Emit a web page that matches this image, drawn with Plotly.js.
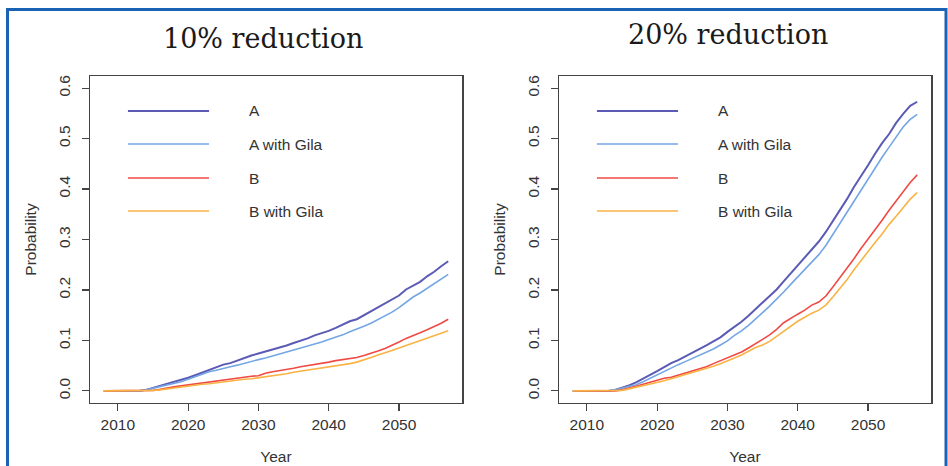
<!DOCTYPE html>
<html>
<head>
<meta charset="utf-8">
<script src="https://cdn.plot.ly/plotly-3.0.1.min.js"></script>
<style>html,body{margin:0;padding:0;background:#fff;}#chart{width:948px;height:466px;}</style>
</head>
<body>
<div id="chart"></div>
<script>
// ---------- data ----------
const years = [2008,2009,2010,2011,2012,2013,2014,2015,2016,2017,2018,2019,2020,2021,2022,2023,2024,2025,2026,2027,2028,2029,2030,2031,2032,2033,2034,2035,2036,2037,2038,2039,2040,2041,2042,2043,2044,2045,2046,2047,2048,2049,2050,2051,2052,2053,2054,2055,2056,2057];

const panelTitles = ["10% reduction", "20% reduction"];
const seriesNames = ["A", "A with Gila", "B", "B with Gila"];
const xTickVals = [2010, 2020, 2030, 2040, 2050];
const yTickVals = [0.0, 0.1, 0.2, 0.3, 0.4, 0.5, 0.6];
const xLabel = "Year";
const yLabel = "Probability";

// 10% reduction
const left_A  = [0,0,0,0,0,0, 0.002,0.006,0.010,0.014,0.017,0.021,0.026,0.031,0.036,0.042, 0.047,0.052,0.055,0.060,0.066,0.070,0.074,0.078,0.081,0.086, 0.090,0.095,0.099,0.104,0.110,0.114,0.119,0.125,0.132,0.138, 0.142,0.150,0.157,0.166,0.174,0.182,0.189,0.201,0.208,0.216, 0.227,0.236,0.247,0.257];
const left_AG = [0,0,0,0,0,0, 0.002,0.005,0.008,0.012,0.015,0.018,0.023,0.028,0.033,0.038, 0.041,0.045,0.048,0.051,0.055,0.058,0.062,0.065,0.069,0.073, 0.076,0.080,0.085,0.089,0.093,0.097,0.102,0.106,0.111,0.117, 0.122,0.128,0.134,0.141,0.148,0.156,0.165,0.176,0.186,0.194, 0.203,0.213,0.222,0.231];
const left_B  = [0,0,0,0,0,0,0, 0.001,0.003,0.006,0.008,0.010,0.012,0.014,0.015,0.017,0.019, 0.021,0.024,0.026,0.027,0.029,0.030,0.035,0.038,0.040,0.043, 0.045,0.048,0.050,0.053,0.055,0.057,0.060,0.062,0.064,0.066, 0.070,0.074,0.079,0.084,0.090,0.097,0.104,0.109,0.115,0.121, 0.127,0.134,0.142];
const left_BG = [0,0,0,0,0,0,0, 0.001,0.002,0.004,0.006,0.008,0.010,0.011,0.013,0.014,0.016, 0.018,0.019,0.021,0.023,0.024,0.026,0.027,0.029,0.031,0.034, 0.037,0.039,0.042,0.044,0.046,0.048,0.050,0.052,0.054,0.057, 0.061,0.066,0.071,0.075,0.080,0.085,0.090,0.094,0.099,0.104, 0.109,0.114,0.119];

// 20% reduction
const right_A  = [0,0,0,0,0,0, 0.002,0.006,0.011,0.017,0.024,0.031,0.039,0.047,0.055,0.061, 0.068,0.076,0.083,0.090,0.098,0.106,0.117,0.127,0.137,0.149, 0.162,0.176,0.188,0.201,0.217,0.233,0.249,0.263,0.279,0.296, 0.315,0.337,0.357,0.380,0.404,0.425,0.447,0.470,0.491,0.509, 0.531,0.549,0.565,0.573];
const right_AG = [0,0,0,0,0,0, 0.002,0.005,0.009,0.012,0.018,0.025,0.032,0.039,0.045,0.052, 0.058,0.064,0.070,0.076,0.083,0.091,0.099,0.110,0.119,0.130, 0.142,0.155,0.168,0.181,0.196,0.211,0.226,0.239,0.254,0.270, 0.288,0.310,0.331,0.352,0.374,0.396,0.419,0.442,0.463,0.483, 0.504,0.523,0.538,0.548];
const right_B  = [0,0,0,0,0,0,0, 0.002,0.005,0.009,0.013,0.017,0.021,0.025,0.027,0.031,0.036, 0.040,0.044,0.048,0.054,0.060,0.066,0.071,0.077,0.085,0.093, 0.102,0.111,0.122,0.135,0.144,0.152,0.160,0.170,0.176,0.188, 0.206,0.224,0.243,0.262,0.282,0.300,0.318,0.338,0.358,0.377, 0.395,0.413,0.428];
const right_BG = [0,0,0,0,0,0,0, 0.001,0.004,0.007,0.010,0.014,0.017,0.020,0.024,0.028,0.032, 0.036,0.040,0.044,0.049,0.054,0.059,0.065,0.071,0.078,0.086, 0.091,0.098,0.108,0.118,0.128,0.138,0.146,0.154,0.160,0.170, 0.186,0.202,0.220,0.240,0.258,0.278,0.294,0.311,0.330,0.346, 0.363,0.380,0.393];

// ---------- styling ----------
const colors = ["#5b5bb5", "#74a6e4", "#f04a44", "#f9b344"];
const widths = [2, 1.6, 1.6, 1.6];
const textFont = {family: "Liberation Sans, Arial, sans-serif", size: 15.5, color: "#333"};

const panels = [
  {series: [left_A, left_AG, left_B, left_BG], xa: "x", ya: "y", titleX: 0.465, titleY: 0.918},
  {series: [right_A, right_AG, right_B, right_BG], xa: "x2", ya: "y2", titleX: 0.454, titleY: 0.925}
];

const traces = [];
const shapes = [];
const annotations = [];

panels.forEach((p, pi) => {
  p.series.forEach((vals, si) => {
    traces.push({
      x: years, y: vals, type: "scatter", mode: "lines",
      xaxis: p.xa, yaxis: p.ya, name: seriesNames[si], showlegend: false,
      line: {color: colors[si], width: widths[si]}
    });
    // manual R-style legend
    const ly = [0.893, 0.792, 0.688, 0.587][si];
    shapes.push({type: "line", xref: p.xa + " domain", yref: p.ya + " domain",
      x0: 0.102, x1: 0.320, y0: ly, y1: ly, line: {color: colors[si], width: widths[si]}});
    annotations.push({xref: p.xa + " domain", yref: p.ya + " domain", x: 0.422, y: ly,
      xanchor: "left", yanchor: "middle", text: seriesNames[si], showarrow: false, font: textFont});
  });
  annotations.push({xref: p.xa + " domain", yref: "paper", x: p.titleX, y: p.titleY,
    xanchor: "center", yanchor: "middle", text: panelTitles[pi], showarrow: false,
    font: {family: "DejaVu Serif, serif", size: 27, color: "#1a1a1a"}});
});

// outer blue frame
shapes.push({type: "rect", xref: "paper", yref: "paper", x0: 7.5/948, x1: 946/948, y0: -0.05, y1: 1 - 9.5/466,
  line: {color: "#1a62b4", width: 3}, fillcolor: "rgba(0,0,0,0)", layer: "above"});

function xaxisDef(domain) {
  return {
    domain: domain, range: [2006.04, 2058.96], tickvals: xTickVals, ticktext: xTickVals.map(String),
    showline: true, mirror: true, linecolor: "#444", linewidth: 1.5,
    ticks: "outside", ticklen: 7, tickwidth: 1.2, tickcolor: "#444",
    showgrid: false, zeroline: false, tickfont: textFont, automargin: false,
    title: {text: xLabel, font: textFont, standoff: 19}
  };
}
function yaxisDef() {
  return {
    domain: [0.1352, 0.8369], range: [-0.024, 0.624], tickvals: yTickVals,
    ticktext: yTickVals.map(v => v.toFixed(1)), tickangle: -90, ticklabelstandoff: 5,
    showline: true, mirror: true, linecolor: "#444", linewidth: 1.5,
    ticks: "outside", ticklen: 7, tickwidth: 1.2, tickcolor: "#444",
    showgrid: false, zeroline: false, tickfont: textFont, automargin: false,
    title: {text: yLabel, font: textFont, standoff: 16}
  };
}

const layout = {
  width: 948, height: 466,
  margin: {l: 0, r: 0, t: 0, b: 0},
  paper_bgcolor: "#fff", plot_bgcolor: "#fff",
  showlegend: false,
  xaxis: xaxisDef([90/948, 462/948]),
  yaxis: yaxisDef(),
  xaxis2: Object.assign(xaxisDef([559/948, 931/948]), {anchor: "y2"}),
  yaxis2: Object.assign(yaxisDef(), {anchor: "x2"}),
  shapes: shapes,
  annotations: annotations
};

Plotly.newPlot("chart", traces, layout, {staticPlot: true, displayModeBar: false});
</script>
</body>
</html>
